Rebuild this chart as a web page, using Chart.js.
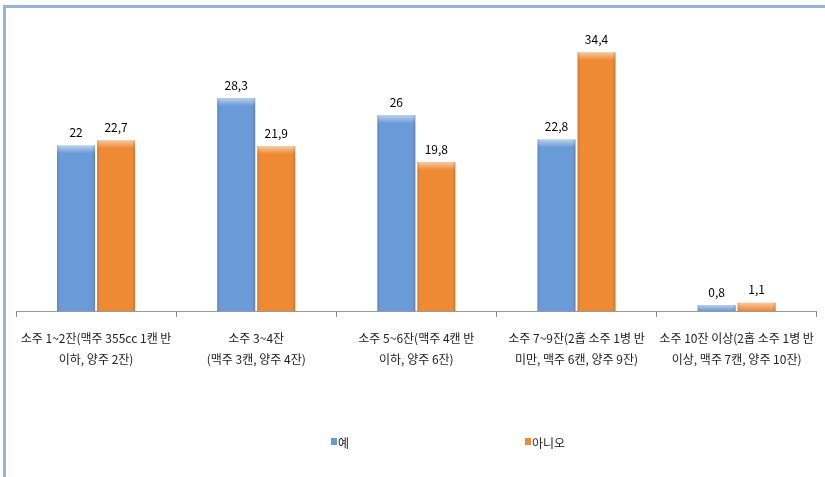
<!DOCTYPE html>
<html>
<head>
<meta charset="utf-8">
<script src="https://cdn.jsdelivr.net/npm/chart.js@4.4.0/dist/chart.umd.min.js"></script>
<style>
  body { margin: 0; background: #fff; }
  #chart { display: block; }
</style>
</head>
<body>
<canvas id="chart" width="825" height="477"></canvas>
<script>
// 음주량 구간
const categories = [
  ['소주 1~2잔(맥주 355cc 1캔 반', '이하, 양주 2잔)'],
  ['소주 3~4잔', '(맥주 3캔, 양주 4잔)'],
  ['소주 5~6잔(맥주 4캔 반', '이하, 양주 6잔)'],
  ['소주 7~9잔(2홉 소주 1병 반', '미만, 맥주 6캔, 양주 9잔)'],
  ['소주 10잔 이상(2홉 소주 1병 반', '이상, 맥주 7캔, 양주 10잔)']
]
const seriesNames = ['예', '아니오']
const yesValues = [22, 28.3, 26, 22.8, 0.8]
const noValues = [22.7, 21.9, 19.8, 34.4, 1.1]
const colors = ['#6a9ad8', '#ee8a34']

const fmt = v => String(v).replace('.', ',')

// excel 느낌 bevel
const bevel = {
  id: 'bevel',
  afterDatasetsDraw(chart) {
    const ctx = chart.ctx
    chart.data.datasets.forEach((ds, i) => {
      chart.getDatasetMeta(i).data.forEach(bar => {
        const left = bar.x - bar.width / 2
        const top = bar.y
        const h = bar.base - bar.y
        const w = bar.width
        ctx.save()
        let g = ctx.createLinearGradient(0, top, 0, top + Math.min(8, h))
        g.addColorStop(0, 'rgba(255,255,255,0.55)')
        g.addColorStop(1, 'rgba(255,255,255,0)')
        ctx.fillStyle = g
        ctx.fillRect(left, top, w, Math.min(8, h))
        g = ctx.createLinearGradient(left, 0, left + w, 0)
        g.addColorStop(0, 'rgba(0,0,0,0.12)')
        g.addColorStop(0.08, 'rgba(0,0,0,0)')
        g.addColorStop(0.92, 'rgba(0,0,0,0)')
        g.addColorStop(1, 'rgba(0,0,0,0.15)')
        ctx.fillStyle = g
        ctx.fillRect(left, top, w, h)
        ctx.restore()
      })
    })
  }
}

const valueLabels = {
  id: 'valueLabels',
  afterDatasetsDraw(chart) {
    const ctx = chart.ctx
    ctx.save()
    ctx.font = '12px "Noto Sans CJK KR", sans-serif'
    ctx.fillStyle = '#000'
    ctx.textAlign = 'center'
    ctx.textBaseline = 'bottom'
    chart.data.datasets.forEach((ds, i) => {
      chart.getDatasetMeta(i).data.forEach((bar, j) => {
        ctx.fillText(fmt(ds.data[j]), bar.x, bar.y - 7)
      })
    })
    ctx.restore()
  }
}

const frameAndLegend = {
  id: 'frameAndLegend',
  beforeDraw(chart) {
    const ctx = chart.ctx
    ctx.save()
    ctx.strokeStyle = '#98b4d4'
    ctx.lineWidth = 3
    ctx.beginPath()
    ctx.moveTo(4.5, chart.height)
    ctx.lineTo(4.5, 6.5)
    ctx.lineTo(chart.width, 6.5)
    ctx.stroke()
    ctx.restore()
  },
  afterDraw(chart) {
    const ctx = chart.ctx
    const xs = [331, 525]
    ctx.save()
    ctx.font = '12px "Noto Sans CJK KR", sans-serif'
    ctx.textBaseline = 'middle'
    chart.data.datasets.forEach((ds, i) => {
      ctx.fillStyle = ds.backgroundColor
      ctx.fillRect(xs[i], 438, 6, 7)
      ctx.fillStyle = '#222'
      ctx.fillText(ds.label, xs[i] + 7, 443)
    })
    ctx.restore()
  }
}

new Chart(document.getElementById('chart'), {
  type: 'bar',
  data: {
    labels: categories,
    datasets: [
      { label: seriesNames[0], data: yesValues, backgroundColor: colors[0] },
      { label: seriesNames[1], data: noValues, backgroundColor: colors[1] }
    ]
  },
  options: {
    responsive: false,
    animation: false,
    layout: { padding: { left: 16, right: 1, top: 10, bottom: 96 } },
    datasets: { bar: { barPercentage: 0.95, categoryPercentage: 0.5 } },
    plugins: {
      legend: { display: false },
      tooltip: { enabled: false }
    },
    scales: {
      y: { display: false, min: 0, max: 40 },
      x: {
        grid: { offset: true, drawOnChartArea: false, color: '#888', tickLength: 6 },
        border: { color: '#999' },
        ticks: {
          autoSkip: false, maxRotation: 0, minRotation: 0, padding: 11,
          color: '#222',
          font: { family: '"Noto Sans CJK KR", sans-serif', size: 12, lineHeight: 1.75 }
        }
      }
    }
  },
  plugins: [bevel, valueLabels, frameAndLegend]
})
</script>
</body>
</html>
